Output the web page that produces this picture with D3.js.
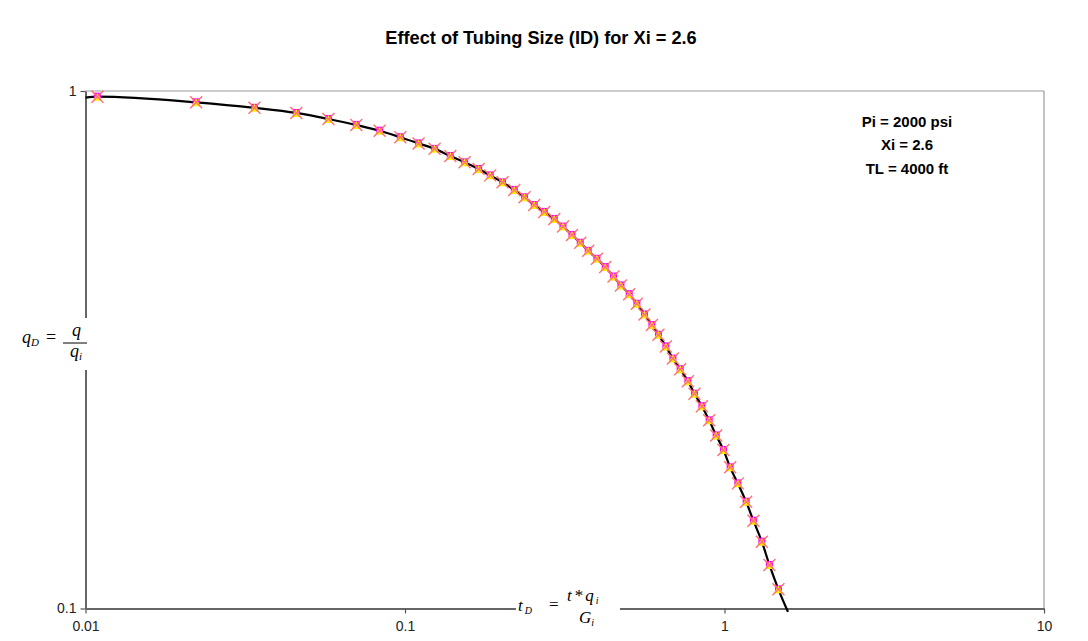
<!DOCTYPE html>
<html>
<head>
<meta charset="utf-8">
<script src="https://cdn.jsdelivr.net/npm/d3@7"></script>
<style>
    body { margin: 0; background: #fff; }
    svg { display: block; font-family: "Liberation Sans", Arial, sans-serif; }
    .eq { font-family: "Liberation Serif", "Times New Roman", serif; font-style: italic; }
</style>
</head>
<body>
<svg id="chart" width="1088" height="641"></svg>
<script>
// Pontos (tD, qD) - todas as séries de tubing se sobrepõem.
const tD = [0.0109, 0.0222, 0.0338, 0.0457, 0.0576, 0.0704, 0.0833, 0.0967, 0.1103, 0.1238,
    0.1386, 0.1537, 0.1700, 0.1848, 0.2020, 0.2198, 0.2367, 0.2538, 0.2728, 0.2932,
    0.3122, 0.3331, 0.3536, 0.3745, 0.3987, 0.4233, 0.4494, 0.4740, 0.5032, 0.5318,
    0.5618, 0.5926, 0.6213, 0.6554, 0.6894, 0.7266, 0.7680, 0.8054, 0.8496, 0.8954,
    0.9417, 0.9924, 1.0416, 1.1010, 1.1689, 1.2319, 1.3087, 1.3825, 1.4750];
const qD = [0.975, 0.951, 0.928, 0.907, 0.883, 0.860, 0.838, 0.814, 0.792, 0.773,
    0.749, 0.728, 0.707, 0.687, 0.666, 0.644, 0.623, 0.602, 0.584, 0.566,
    0.547, 0.527, 0.509, 0.491, 0.474, 0.457, 0.438, 0.421, 0.405, 0.388,
    0.370, 0.353, 0.338, 0.321, 0.304, 0.290, 0.275, 0.260, 0.246, 0.231,
    0.216, 0.2025, 0.1874, 0.1745, 0.1608, 0.1478, 0.1346, 0.1214, 0.1089];

// Curva continua (modelo) - começa no eixo e passa do último ponto.
const curveT = [0.01].concat(tD, [1.58]);
const curveQ = [0.971].concat(qD, [0.0985]);

const xTicks = [0.01, 0.1, 1, 10];
const yTicks = [0.1, 1];
const infoLines = ['Pi = 2000 psi', 'Xi = 2.6', 'TL = 4000 ft'];
const seriesMarkers = ['square', 'triangle', 'cross'];

const svg = d3.select('#chart'),
    pLeft = 85.5, pRight = 1044, pTop = 91, pBottom = 608.5;

const x = d3.scaleLog().domain([0.01, 10]).range([pLeft, pRight]);
const y = d3.scaleLog().domain([0.1, 1]).range([pBottom, pTop]);

svg.append('rect').attr('width', 1088).attr('height', 641).attr('fill', '#fff');

// Bordas da área de plotagem
svg.append('line').attr('x1', pLeft).attr('x2', pRight).attr('y1', pTop).attr('y2', pTop)
    .attr('stroke', '#9a9a9a').attr('stroke-width', 1.2);
svg.append('line').attr('x1', pRight).attr('x2', pRight).attr('y1', pTop).attr('y2', pBottom)
    .attr('stroke', '#9a9a9a').attr('stroke-width', 1.2);

// Eixos
const xAxis = svg.append('g').attr('transform', 'translate(0,' + pBottom + ')')
    .call(d3.axisBottom(x).tickValues(xTicks).tickFormat(d3.format('')).tickSize(5).tickSizeOuter(0).tickPadding(8));
const yAxis = svg.append('g').attr('transform', 'translate(' + pLeft + ',0)')
    .call(d3.axisLeft(y).tickValues(yTicks).tickFormat(d3.format('')).tickSize(5).tickSizeOuter(0).tickPadding(4));

[xAxis, yAxis].forEach(function (a) {
    a.select('.domain').attr('stroke', '#666').attr('stroke-width', 2);
    a.selectAll('.tick line').attr('stroke', '#555').attr('stroke-width', 1.2);
    a.selectAll('.tick text').attr('font-size', 14).attr('fill', '#222')
        .attr('font-family', '"Liberation Sans", Arial, sans-serif');
});

// Curva
const line = d3.line()
    .x(function (d, i) { return x(curveT[i]); })
    .y(function (d, i) { return y(curveQ[i]); })
    .curve(d3.curveMonotoneX);

svg.append('path')
    .datum(curveT)
    .attr('d', line)
    .attr('fill', 'none')
    .attr('stroke', '#000')
    .attr('stroke-width', 2.2);

// Marcadores (séries sobrepostas)
const pts = tD.map(function (t, i) { return { t: t, q: qD[i] }; });
seriesMarkers.forEach(function (kind) {
    const g = svg.append('g').attr('class', 'series series--' + kind);
    const node = g.selectAll('g').data(pts).enter().append('g')
        .attr('transform', function (d) {
            return 'translate(' + x(d.t) + ',' + y(d.q) + ')';
        });
    if (kind === 'square') {
        node.append('rect').attr('x', -3.5).attr('y', -4).attr('width', 7).attr('height', 7)
            .attr('fill', '#ff00ff');
    } else if (kind === 'triangle') {
        node.append('path').attr('d', 'M0,-4L4.5,4L-4.5,4Z').attr('fill', '#ffee00');
    } else {
        node.append('path').attr('d', 'M-6,-6L6,6M-6,6L6,-6')
            .attr('stroke', '#ff7070').attr('stroke-width', 1.4);
    }
});

// Título
svg.append('text')
    .attr('x', 541).attr('y', 44)
    .attr('text-anchor', 'middle')
    .attr('font-size', 18.2)
    .attr('font-weight', 'bold')
    .text('Effect of Tubing Size (ID) for Xi = 2.6');

// Caixa de informação
svg.append('g').selectAll('text').data(infoLines).enter().append('text')
    .attr('x', 907)
    .attr('y', function (d, i) { return 127 + i * 23.3; })
    .attr('text-anchor', 'middle')
    .attr('font-size', 15)
    .attr('font-weight', 'bold')
    .text(function (d) { return d; });

// Rótulo do eixo Y: qD = q / qi
const yl = svg.append('g').attr('class', 'eq');
yl.append('rect').attr('x', 78).attr('y', 318).attr('width', 14).attr('height', 52).attr('fill', '#fff');
let tq = yl.append('text').attr('x', 22).attr('y', 343).attr('font-size', 18);
tq.append('tspan').text('q');
tq.append('tspan').attr('font-size', 11).attr('dy', 3).text('D');
yl.append('text').attr('x', 46).attr('y', 343).attr('font-size', 18).attr('font-style', 'normal').text('=');
yl.append('line').attr('x1', 63).attr('x2', 87).attr('y1', 343).attr('y2', 343).attr('stroke', '#000').attr('stroke-width', 1);
yl.append('text').attr('x', 72).attr('y', 336).attr('font-size', 18).text('q');
let tqi = yl.append('text').attr('x', 70).attr('y', 357).attr('font-size', 18);
tqi.append('tspan').text('q');
tqi.append('tspan').attr('font-size', 11).attr('dy', 3).text('i');

// Rótulo do eixo X: tD = t * qi / Gi
const xl = svg.append('g').attr('class', 'eq');
xl.append('rect').attr('x', 516).attr('y', 600).attr('width', 104).attr('height', 16).attr('fill', '#fff');
let tt = xl.append('text').attr('x', 518).attr('y', 611).attr('font-size', 17);
tt.append('tspan').text('t');
tt.append('tspan').attr('font-size', 10).attr('dy', 3).attr('dx', 2).text('D');
xl.append('text').attr('x', 549).attr('y', 610).attr('font-size', 17).attr('font-style', 'normal').text('=');
let tn = xl.append('text').attr('x', 567).attr('y', 601).attr('font-size', 17);
tn.append('tspan').text('t');
tn.append('tspan').attr('dx', 3).attr('font-style', 'normal').text('*');
tn.append('tspan').attr('dx', 2).text('q');
tn.append('tspan').attr('font-size', 10).attr('dy', 3).attr('dx', 2).text('i');
let tg = xl.append('text').attr('x', 579).attr('y', 623).attr('font-size', 17);
tg.append('tspan').text('G');
tg.append('tspan').attr('font-size', 10).attr('dy', 3).text('i');
</script>
</body>
</html>
